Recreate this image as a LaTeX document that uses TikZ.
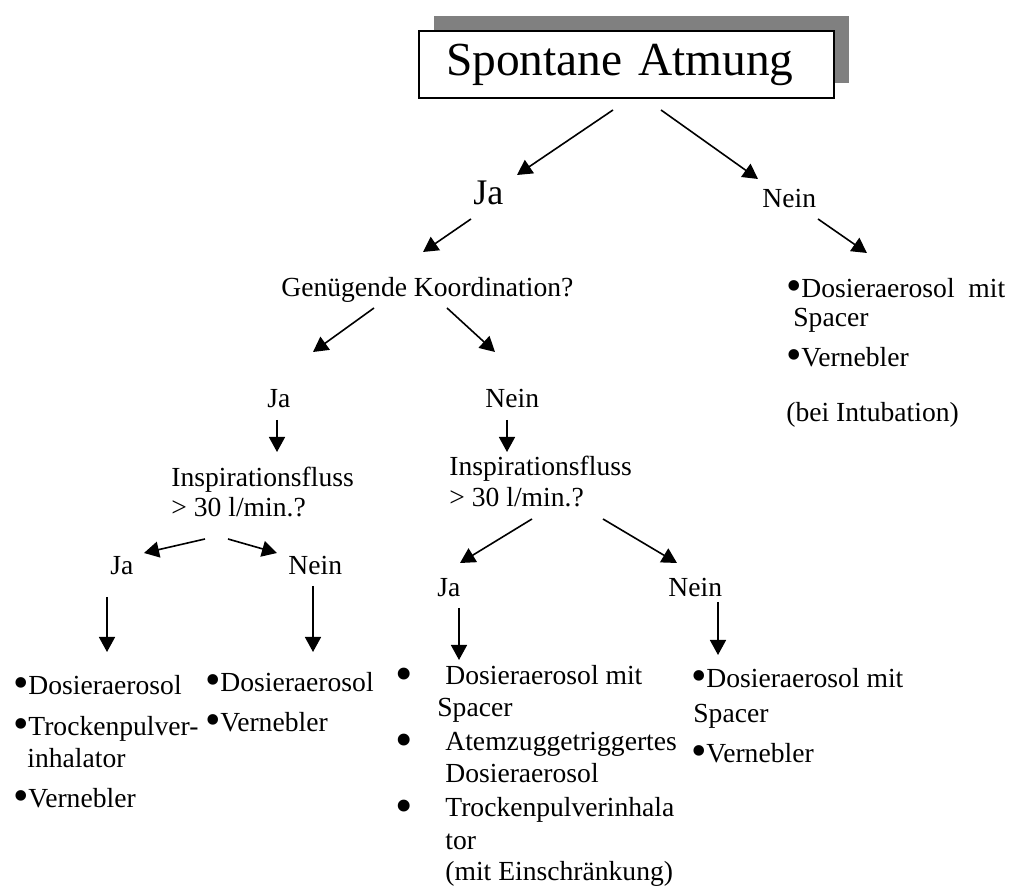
\documentclass[tikz,border=0pt]{standalone}
\usepackage{fontspec}
\setmainfont{Liberation Serif}
\usetikzlibrary{arrows.meta, shadows}
\newcommand{\blt}{\makebox[7.5pt]{\smash{\raisebox{-1.3pt}{\scalebox{1.6}{\textbullet}}}}}
\newcommand{\bltw}{\makebox[23pt][l]{\makebox[5pt]{\smash{\raisebox{-2.6pt}{\scalebox{1.8}{\textbullet}}}}}}

\begin{document}
\begin{tikzpicture}[x=0.5pt, y=-0.5pt,
    txt/.style={inner sep=0, anchor=base west, font=\fontsize{13.8}{16}\selectfont},
    arr/.style={line width=0.8pt, -{Triangle[length=7.5pt, width=8pt]}},
    titlebox/.style={draw, line width=1pt, fill=white, anchor=north west, inner xsep=13.5pt, inner ysep=0, text width=180.5pt, minimum height=33.5pt, font=\fontsize{23.7}{26}\selectfont, general shadow={fill=black!50, shadow xshift=7.5pt, shadow yshift=7.5pt}}]
    \useasboundingbox (0,0) rectangle (1009,886);
    \node[titlebox] (title) at (418,30) {Spontane Atmung};
    \node[txt, font=\fontsize{18}{20}\selectfont] (ja1) at (473,205) {Ja};
    \node[txt] (nein1) at (762,208) {Nein};
    \node[txt] (koord) at (281,297) {Genügende Koordination?};
    \node[txt] (tr1) at (786,298) {\blt Dosieraerosol\ \ mit};
    \node[txt] (tr2) at (793,327) {Spacer};
    \node[txt] (tr3) at (786,367) {\blt Vernebler};
    \node[txt] (tr4) at (786,422) {(bei Intubation)};
    \node[txt] (ja2) at (267,408) {Ja};
    \node[txt] (nein2) at (485,408) {Nein};
    \node[txt] (inspl) at (171,487) {Inspirationsfluss};
    \node[txt] (insplb) at (171,517) {> 30 l/min.?};
    \node[txt] (inspr) at (449,476) {Inspirationsfluss};
    \node[txt] (insprb) at (449,507) {> 30 l/min.?};
    \node[txt] (ja3) at (110,575) {Ja};
    \node[txt] (nein3) at (288,575) {Nein};
    \node[txt] (ja4) at (437,597) {Ja};
    \node[txt] (nein4) at (668,597) {Nein};
    \node[txt] (l1a) at (13,695) {\blt Dosieraerosol};
    \node[txt] (l1b) at (13,736) {\blt Trockenpulver-};
    \node[txt] (l1c) at (27,768) {inhalator};
    \node[txt] (l1d) at (13,808) {\blt Vernebler};
    \node[txt] (l2a) at (205,692) {\blt Dosieraerosol};
    \node[txt] (l2b) at (205,732) {\blt Vernebler};
    \node[txt] (l3a) at (399,685) {\bltw Dosieraerosol mit};
    \node[txt] (l3b) at (437,717) {Spacer};
    \node[txt] (l3c) at (399,751) {\bltw Atemzuggetriggertes};
    \node[txt] (l3d) at (445,783) {Dosieraerosol};
    \node[txt] (l3e) at (399,817) {\bltw Trockenpulverinhala};
    \node[txt] (l3f) at (445,850) {tor};
    \node[txt] (l3g) at (445,881) {(mit Einschränkung)};
    \node[txt] (l4a) at (691,688) {\blt Dosieraerosol mit};
    \node[txt] (l4b) at (693,723) {Spacer};
    \node[txt] (l4c) at (691,763) {\blt Vernebler};
    \draw[arr] ([shift={(195,11)}]title.south west) -- ([shift={(44,-30)}]ja1.base west);
    \draw[arr] ([shift={(243,11)}]title.south west) -- ([shift={(-4,-29)}]nein1.base west);
    \foreach \a/\ax/\ay/\b/\bx/\by in {ja1/-2/14/koord/142/-45, nein1/56/11/tr1/81/-45,
        koord/93/11/ja2/46/-56, koord/166/11/nein2/10/-56,
        ja2/10/12/inspl/106/-35, nein2/22/12/inspr/58/-24,
        insplb/34/22/ja3/34/-22, insplb/57/22/nein3/-11/-22,
        insprb/83/12/ja4/23/-34, insprb/154/12/nein4/9/-34,
        ja3/-3/22/l1a/94/-43, nein3/25/11/l2a/108/-40,
        ja4/22/11/l3a/60/-25, nein4/50/5/l4a/27/-33}
      {\draw[arr] ([shift={(\ax,\ay)}]\a.base west) -- ([shift={(\bx,\by)}]\b.base west);}
\end{tikzpicture}
\end{document}
